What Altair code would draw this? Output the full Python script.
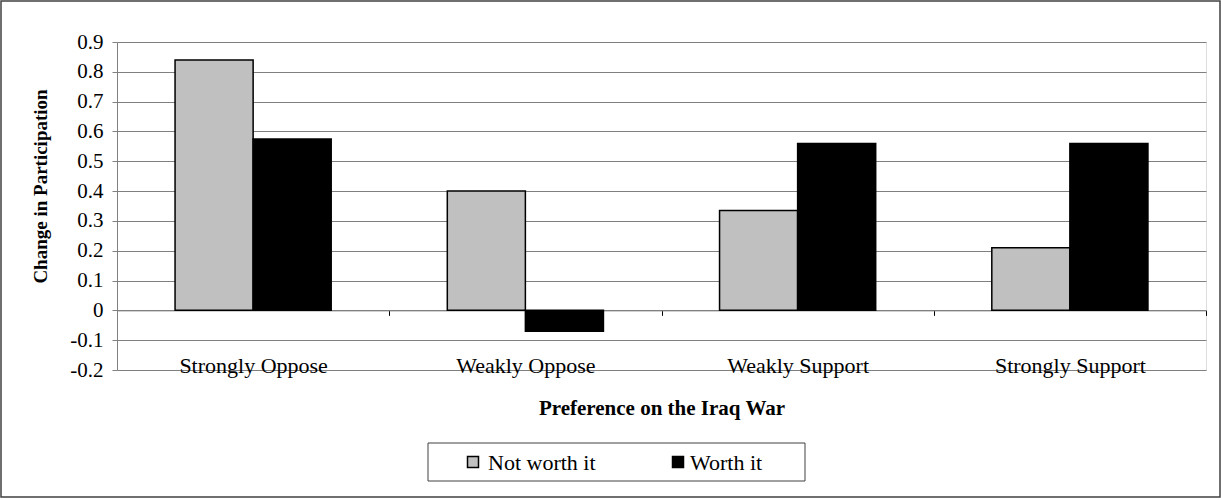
import altair as alt
import pandas as pd

categories = ["Strongly Oppose", "Weakly Oppose", "Weakly Support", "Strongly Support"]
series = ["Not worth it", "Worth it"]
not_worth_it = [0.84, 0.40, 0.335, 0.21]
worth_it = [0.575, -0.07, 0.56, 0.56]
y_ticks = [-0.2, -0.1, 0, 0.1, 0.2, 0.3, 0.4, 0.5, 0.6, 0.7, 0.8, 0.9]
colors = ["#C0C0C0", "#000000"]

rows = []
for c, a, b in zip(categories, not_worth_it, worth_it):
    rows.append({"cat": c, "series": series[0], "value": a})
    rows.append({"cat": c, "series": series[1], "value": b})
df = pd.DataFrame(rows)
legend_df = pd.DataFrame({"series": series})

W, H = 1089, 328
FONT = "Liberation Serif"
GRID = "#808080"
zero_offset = -(H * 2 / 11)

color_scale = alt.Scale(domain=series, range=colors)

bars = alt.Chart(df).mark_bar(stroke="black", strokeWidth=1.5).encode(
    x=alt.X("cat:N", sort=categories,
            scale=alt.Scale(paddingInner=0, paddingOuter=0),
            axis=alt.Axis(title="Preference on the Iraq War", orient="bottom",
                          offset=zero_offset, tickBand="extent", ticks=True,
                          tickColor="black", tickSize=5, domainColor=GRID,
                          labelAngle=0, labelFont=FONT, labelFontSize=22,
                          labelColor="black", labelPadding=40,
                          titleFont=FONT, titleFontSize=21, titleFontWeight="bold",
                          titleColor="black", titleX=W / 2, titleY=98,
                          titleBaseline="middle", titleAlign="center",
                          grid=False)),
    xOffset=alt.XOffset("series:N", sort=series,
                        scale=alt.Scale(paddingInner=0, paddingOuter=0.7436)),
    y=alt.Y("value:Q", scale=alt.Scale(domain=[-0.2, 0.9], nice=False, zero=False),
            axis=alt.Axis(title="Change in Participation", values=y_ticks,
                          labelExpr="replace(format(datum.value, '.1~f'), '\u2212', '-')",
                          labelFont=FONT, labelFontSize=21, labelColor="black",
                          labelPadding=9, tickColor=GRID, tickSize=5,
                          domainColor=GRID, gridColor=GRID, grid=True,
                          titleFont=FONT, titleFontSize=19, titleFontWeight="bold",
                          titleColor="black", titleAngle=-90, titleX=-77,
                          titleY=144, titleBaseline="middle", titleAlign="center")),
    color=alt.Color("series:N", sort=series, scale=color_scale, legend=None),
)

one = alt.Data(values=[{}])
outer_box = alt.Chart(one).mark_rect(fill=None, stroke="#404040", strokeWidth=1.5).encode(
    x=alt.value(-116), x2=alt.value(W + 14), y=alt.value(-41), y2=alt.value(H + 127))
legend_box = alt.Chart(one).mark_rect(fill=None, stroke="#404040", strokeWidth=1).encode(
    x=alt.value(311), x2=alt.value(688), y=alt.value(401), y2=alt.value(439))

# manual legend entries (symbol x, label x) in pixels, one per series
legend_pos = [(356, 371), (561, 573)]
legend_layers = []
for s, (sx, tx) in zip(series, legend_pos):
    base = alt.Chart(legend_df).transform_filter(alt.datum.series == s)
    legend_layers.append(
        base.mark_square(size=121, stroke="black", strokeWidth=1.5, opacity=1).encode(
            x=alt.value(sx), y=alt.value(420),
            color=alt.Color("series:N", scale=color_scale, legend=None)))
    legend_layers.append(
        base.mark_text(align="left", baseline="middle", font=FONT, fontSize=22,
                       color="black").encode(
            x=alt.value(tx), y=alt.value(421), text="series:N"))

chart = alt.layer(outer_box, legend_box, bars, *legend_layers).properties(
    width=W, height=H,
    autosize=alt.AutoSizeParams(type="none"),
    padding={"left": 117, "top": 42, "right": 15, "bottom": 130},
).configure_view(stroke=GRID, strokeWidth=1).configure(background="white")

chart.save("out.html", embed_options={"renderer": "svg", "actions": False})
